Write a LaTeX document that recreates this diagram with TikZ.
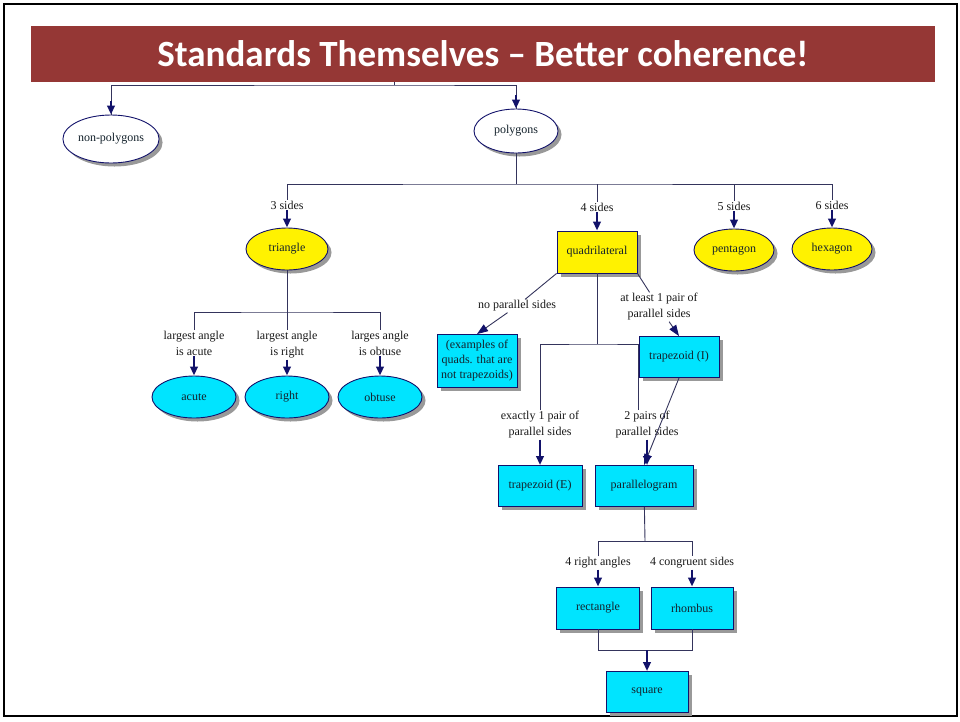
\documentclass[tikz,border=0pt]{standalone}
\usepackage{fontspec}
\setmainfont{Liberation Serif}
\newfontfamily\titlefont{Carlito}
\usetikzlibrary{arrows.meta,shadows,shapes.geometric}
\definecolor{titlered}{HTML}{953735}
\definecolor{navy}{HTML}{12126A}
\definecolor{linkc}{HTML}{34345C}
\definecolor{cyanbox}{HTML}{00E4FF}
\definecolor{txt}{HTML}{14222C}
\tikzset{
  shapenode/.style={draw=navy,line width=0.9pt,text=txt,inner sep=1pt,
    font=\fontsize{12}{15}\selectfont,
    drop shadow={shadow xshift=3.5pt,shadow yshift=-3.5pt,fill=black!40,opacity=1}},
  ovalnode/.style={shapenode,ellipse,minimum width=82pt,minimum height=42pt},
  rectbox/.style={shapenode,rectangle,fill=cyanbox,minimum width=82pt,minimum height=41pt,align=center},
  lab/.style={font=\fontsize{12}{16}\selectfont,text=black!90,align=center,inner sep=1pt},
  link/.style={draw=linkc,line width=0.9pt},
  arr/.style={draw=navy,line width=2.8pt,-{Triangle[width=7.5pt,length=9pt]}},
  arrd/.style={link,-{Triangle[width=8pt,length=11pt,color=navy]}},
}
\begin{document}
\begin{tikzpicture}[x=1pt,y=-1pt]
\useasboundingbox (0,0) rectangle (960,721);
\draw[line width=2.5pt] (4,4) rectangle (957,716);
\node[fill=titlered,minimum width=904pt,minimum height=56pt,inner sep=0pt,
  text=white,font=\titlefont\fontsize{37}{40}\selectfont\bfseries] (title) at (483,54)
  {Standards Themselves – Better coherence!};
% top level
\node[ovalnode,fill=white,minimum width=90pt,minimum height=48pt] (nonpoly) at (111,139) {non-polygons};
\node[ovalnode,fill=white,minimum width=84pt,minimum height=44pt] (poly) at (516,131) {polygons};
\coordinate (top) at (394,85);
% number of sides
\node[lab] (l3) at (287,205) {3 sides};
\node[lab] (l4) at (597,207) {4 sides};
\node[lab] (l5) at (734,206) {5 sides};
\node[lab] (l6) at (832,205) {6 sides};
\node[ovalnode,fill=yellow] (tri) at (287,249) {triangle};
\node[rectbox,fill=yellow,minimum width=80pt,minimum height=42pt] (quad) at (597,252) {quadrilateral};
\node[ovalnode,fill=yellow,minimum width=80pt] (pent) at (734,250) {pentagon};
\node[ovalnode,fill=yellow,minimum width=80pt] (hex) at (832,249) {hexagon};
\coordinate (pbar) at (516,184);
% triangles
\node[lab] (lacute) at (194,343) {largest angle\\is acute};
\node[lab] (lright) at (287,345) {largest angle\\is right};
\node[lab] (lobtuse) at (380,343) {larges angle\\is obtuse};
\node[ovalnode,fill=cyanbox,minimum width=84pt] (acute) at (194,397) {acute};
\node[ovalnode,fill=cyanbox,minimum width=84pt] (right) at (287,397) {right};
\node[ovalnode,fill=cyanbox,minimum width=84pt] (obtuse) at (380,397) {obtuse};
\coordinate (tbar) at (287,312);
% quadrilaterals
\node[lab] (lnone) at (517,306) {no parallel sides};
\node[lab] (lleast) at (659,307) {at least 1 pair of\\parallel sides};
\node[rectbox,minimum width=80pt,minimum height=53pt,inner sep=0pt] (nopar) at (477,361) {(examples of\\quads. that are\\not trapezoids)};
\node[rectbox,minimum width=80pt] (trapI) at (679,357) {trapezoid (I)};
\coordinate (qbar) at (597,344);
\node[lab] (lone) at (540,425) {exactly 1 pair of\\parallel sides};
\node[lab] (ltwo) at (647,425) {2 pairs of\\parallel sides};
\node[rectbox,minimum width=84pt] (trapE) at (540,486) {trapezoid (E)};
\node[rectbox,minimum width=98pt] (pgram) at (644,486) {parallelogram};
\coordinate (gbar) at (645,541);
\node[lab] (lrang) at (598,563) {4 right angles};
\node[lab] (lcong) at (692,563) {4 congruent sides};
\node[rectbox,minimum width=83pt,minimum height=42pt] (rect) at (598,608) {rectangle};
\node[rectbox,minimum height=42pt] (rhomb) at (692,608) {rhombus};
\coordinate (sbar) at (647,650);
\node[rectbox] (square) at (647,692) {square};
% connectors
\draw[link] (top) -- (top |- title.south);
\draw[link] (nonpoly.north) |- (top) -| (poly.north);
\draw[arr] (nonpoly.north) ++(0,-14) -- (nonpoly.north);
\draw[arr] (poly.north) ++(0,-14) -- (poly.north);
\draw[link] (poly) -- (pbar);
\draw[link] (l3.north) |- (pbar) -| (l6.north);
\draw[link] (pbar -| l4) -- (l4.north);
\draw[link] (pbar -| l5) -- (l5.north);
\draw[arr] (l3.south) -- (tri.north);
\draw[arr] (l4.south) -- (quad.north);
\draw[arr] (l5.south) -- (pent.north);
\draw[arr] (l6.south) -- (hex.north);
\draw[link] (tri) -- (lright);
\draw[link] (lacute.north) |- (tbar) -| (lobtuse.north);
\draw[arr] (lacute.south) -- (acute.north);
\draw[arr] (lright.south) -- (right.north);
\draw[arr] (lobtuse.south) -- (obtuse.north);
\draw[link] (quad.south west) -- (lnone);
\draw[arrd] (lnone) -- (nopar.north);
\draw[link] (quad.south east) -- (lleast);
\draw[arrd] (lleast) -- (trapI.north);
\draw[link] (quad) -- (qbar);
\draw[link] (lone.north) |- (qbar) -- (qbar -| trapI.west) -- (trapI.west |- ltwo.north);
\draw[arr] (lone.south) -- (trapE.north);
\draw[arr] (ltwo.south) -- (ltwo.south |- pgram.north);
\draw[arrd] (trapI.south) -- (pgram.north);
\draw[link] (pgram) -- (gbar);
\draw[link] (lrang.north) |- (gbar) -| (lcong.north);
\draw[arr] (lrang.south) -- (rect.north);
\draw[arr] (lcong.south) -- (rhomb.north);
\draw[link] (rect.south) |- (sbar) -| (rhomb.south);
\draw[arr] (sbar) -- (square.north);
\end{tikzpicture}
\end{document}
